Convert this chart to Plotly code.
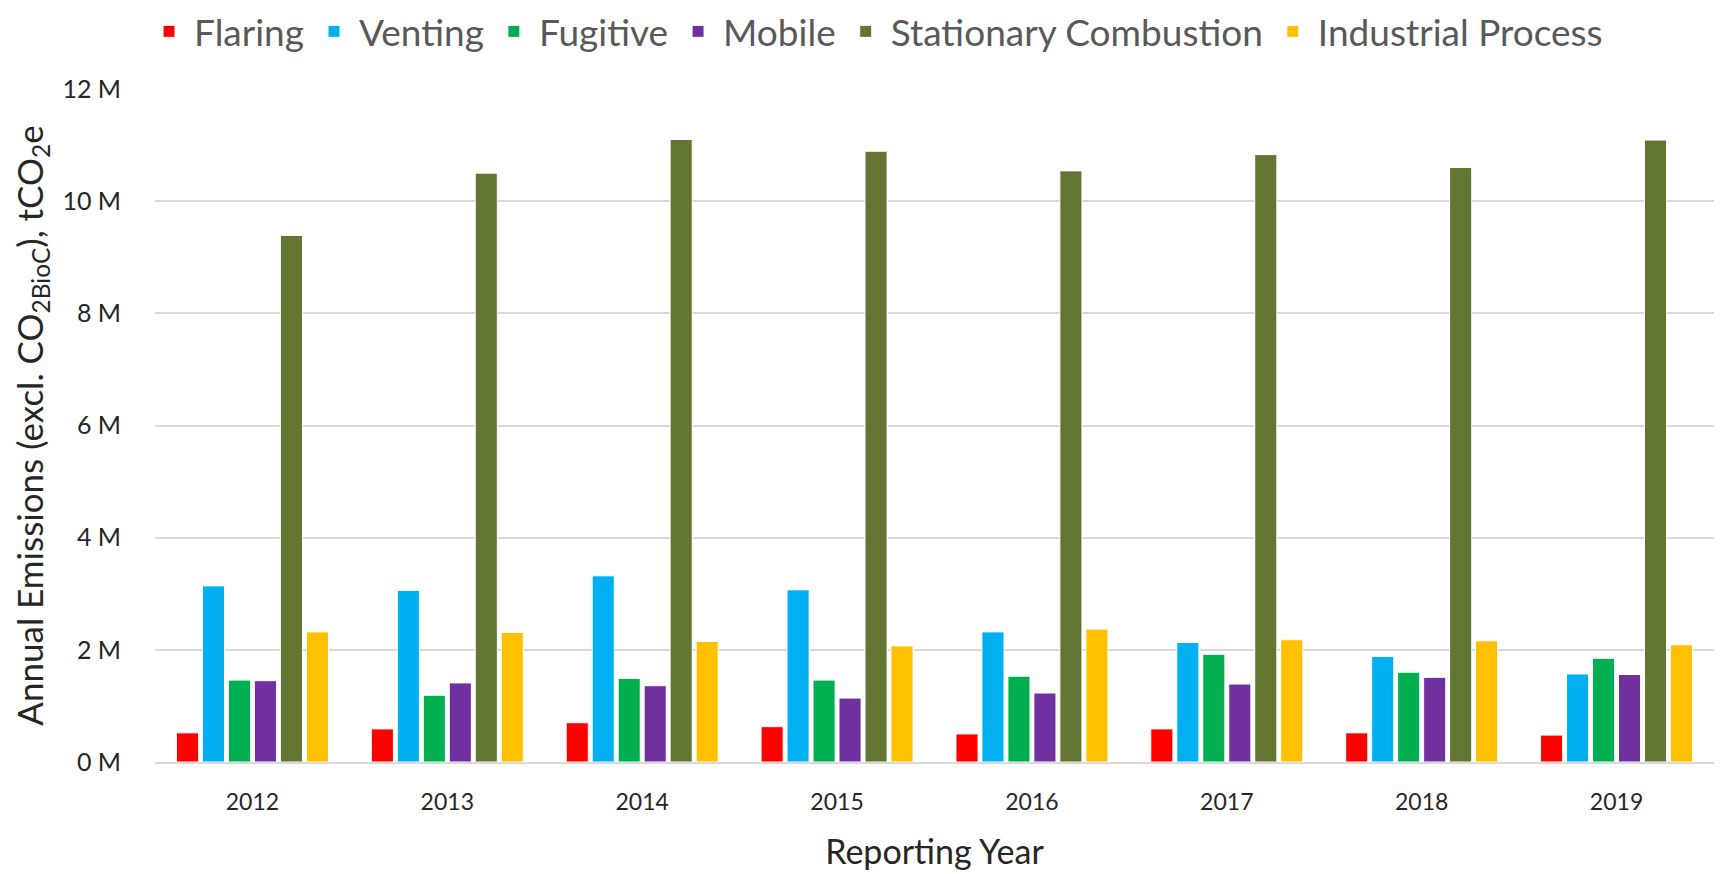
import plotly.graph_objects as go

years = ["2012", "2013", "2014", "2015", "2016", "2017", "2018", "2019"]

# annual emissions by source, millions of tCO2e
flaring = [0.52, 0.59, 0.70, 0.63, 0.50, 0.59, 0.52, 0.48]
venting = [3.14, 3.06, 3.32, 3.07, 2.32, 2.13, 1.88, 1.57]
fugitive = [1.46, 1.19, 1.49, 1.46, 1.53, 1.92, 1.60, 1.85]
mobile = [1.45, 1.41, 1.36, 1.14, 1.23, 1.39, 1.51, 1.56]
stationary = [9.39, 10.50, 11.10, 10.89, 10.54, 10.83, 10.60, 11.09]
industrial = [2.32, 2.31, 2.15, 2.07, 2.37, 2.18, 2.16, 2.09]

y_ticks = [0, 2, 4, 6, 8, 10, 12]
y_labels = ["0 M", "2 M", "4 M", "6 M", "8 M", "10 M", "12 M"]

series = [
    ("Flaring", flaring, "#FF0000"),
    ("Venting", venting, "#00B0F0"),
    ("Fugitive", fugitive, "#00B050"),
    ("Mobile", mobile, "#7030A0"),
    ("Stationary Combustion", stationary, "#627531"),
    ("Industrial Process", industrial, "#FFC000"),
]

fig = go.Figure()
for name, vals, color in series:
    fig.add_trace(go.Bar(
        x=years,
        y=vals,
        name=name,
        marker_color=color,
        marker_line=dict(color="white", width=1),
        hovertemplate=f"{name}<br>%{{x}}: %{{y:.2f}} M<extra></extra>",
    ))

txt = "#595959"
dark = "#262626"
# the page body adds 8px on top/left, margins below allow for that
fig.update_layout(
    barmode="group",
    bargap=0.2,
    bargroupgap=0.15,
    width=1736,
    height=874,
    paper_bgcolor="white",
    plot_bgcolor="white",
    margin=dict(l=147, r=30, t=81, b=120, autoexpand=False),
    font=dict(family="Lato", color=txt),
    legend=dict(
        orientation="h",
        x=0.4625,
        xanchor="center",
        y=1.085,
        yanchor="middle",
        font=dict(size=37, color=txt),
        itemwidth=40,
    ),
    xaxis=dict(
        title=dict(text="Reporting Year", font=dict(size=34, color=dark), standoff=27),
        tickfont=dict(size=23, color=dark),
        ticklabelstandoff=18,
        showline=True,
        linecolor="#d9d9d9",
        linewidth=2,
        ticks="",
    ),
    yaxis=dict(
        title=dict(
            text="Annual Emissions (excl. CO<sub>2BioC</sub>), tCO<sub>2</sub>e",
            font=dict(size=35, color=dark),
            standoff=10,
        ),
        range=[0, 12],
        tickvals=y_ticks,
        ticktext=y_labels,
        tickfont=dict(size=25, color=dark),
        ticklabelstandoff=33,
        showgrid=True,
        gridcolor="#d9d9d9",
        gridwidth=2,
        zeroline=False,
        ticks="",
    ),
)

fig.write_html("out.html")
